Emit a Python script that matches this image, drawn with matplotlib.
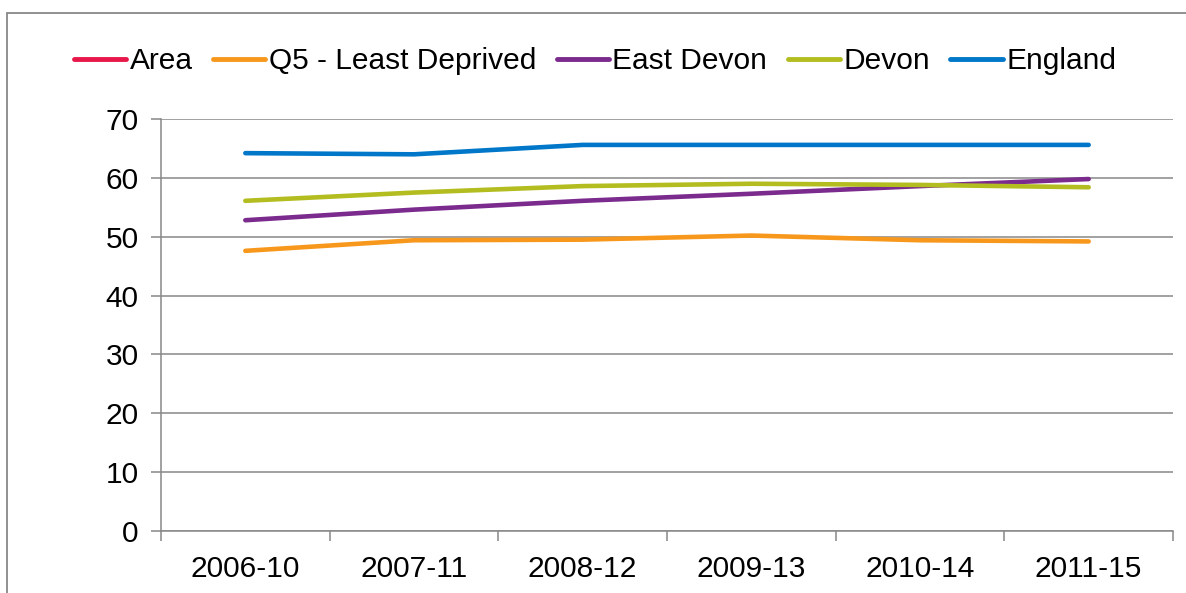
import numpy as np
import matplotlib
matplotlib.use("Agg")
import matplotlib.pyplot as plt
from matplotlib.patches import Rectangle

plt.rcParams['font.family'] = ['Liberation Sans', 'DejaVu Sans']

categories = ["2006-10", "2007-11", "2008-12", "2009-13", "2010-14", "2011-15"]
area = [np.nan, np.nan, np.nan, np.nan, np.nan, np.nan]
q5_least_deprived = [47.6, 49.4, 49.5, 50.2, 49.4, 49.2]
east_devon = [52.8, 54.6, 56.1, 57.3, 58.6, 59.8]
devon = [56.1, 57.5, 58.6, 59.0, 58.8, 58.4]
england = [64.2, 64.0, 65.6, 65.6, 65.6, 65.6]

series = [
    ("Area", area, "#E8174A"),
    ("Q5 - Least Deprived", q5_least_deprived, "#F7981D"),
    ("East Devon", east_devon, "#7B2A8D"),
    ("Devon", devon, "#B3BD1F"),
    ("England", england, "#0077C8"),
]

FS = 21.5
fig = plt.figure(figsize=(11.86, 5.93), dpi=100)
ax = fig.add_axes([161/1186, 1 - 531/593, (1173-161)/1186, (531-119)/593])

x = np.arange(len(categories))
handles = []
for name, vals, col in series:
    h, = ax.plot(x, vals, color=col, lw=3.3, solid_capstyle='round', label=name)
    handles.append(h)

grid_col = "#888888"
ax.set_xlim(-0.5, len(categories) - 0.5)
ax.set_ylim(0, 70)
ax.set_yticks(np.arange(0, 71, 10))
ax.yaxis.grid(True, color=grid_col, lw=1.1)
ax.set_axisbelow(True)
for s in ["top", "right"]:
    ax.spines[s].set_visible(False)
for s in ["left", "bottom"]:
    ax.spines[s].set_color(grid_col)
    ax.spines[s].set_linewidth(1.1)

ax.set_xticks(x)
ax.set_xticklabels(categories)
ax.set_xticks(np.arange(-0.5, len(categories)), minor=True)
ax.tick_params(axis='x', which='major', length=0, pad=17, labelsize=FS)
ax.tick_params(axis='x', which='minor', length=7, width=1.1, color=grid_col, direction='out')
ax.tick_params(axis='y', length=7, width=1.1, color=grid_col, pad=9, labelsize=FS)

leg = fig.legend(handles=handles, loc='center', bbox_to_anchor=(595/1186, 1 - 61/593),
                 ncol=5, frameon=False, fontsize=FS, handlelength=1.75,
                 handletextpad=0.12, columnspacing=0.68, borderpad=0)
for lh in leg.get_lines():
    lh.set_linewidth(3.5)

fig.patches.append(Rectangle((7/1186, -0.1), 1.2, 1.1 - 13/593 + 0.0,
                             transform=fig.transFigure, fill=False,
                             edgecolor=grid_col, lw=1.3))

fig.savefig("out.png", dpi=100)
